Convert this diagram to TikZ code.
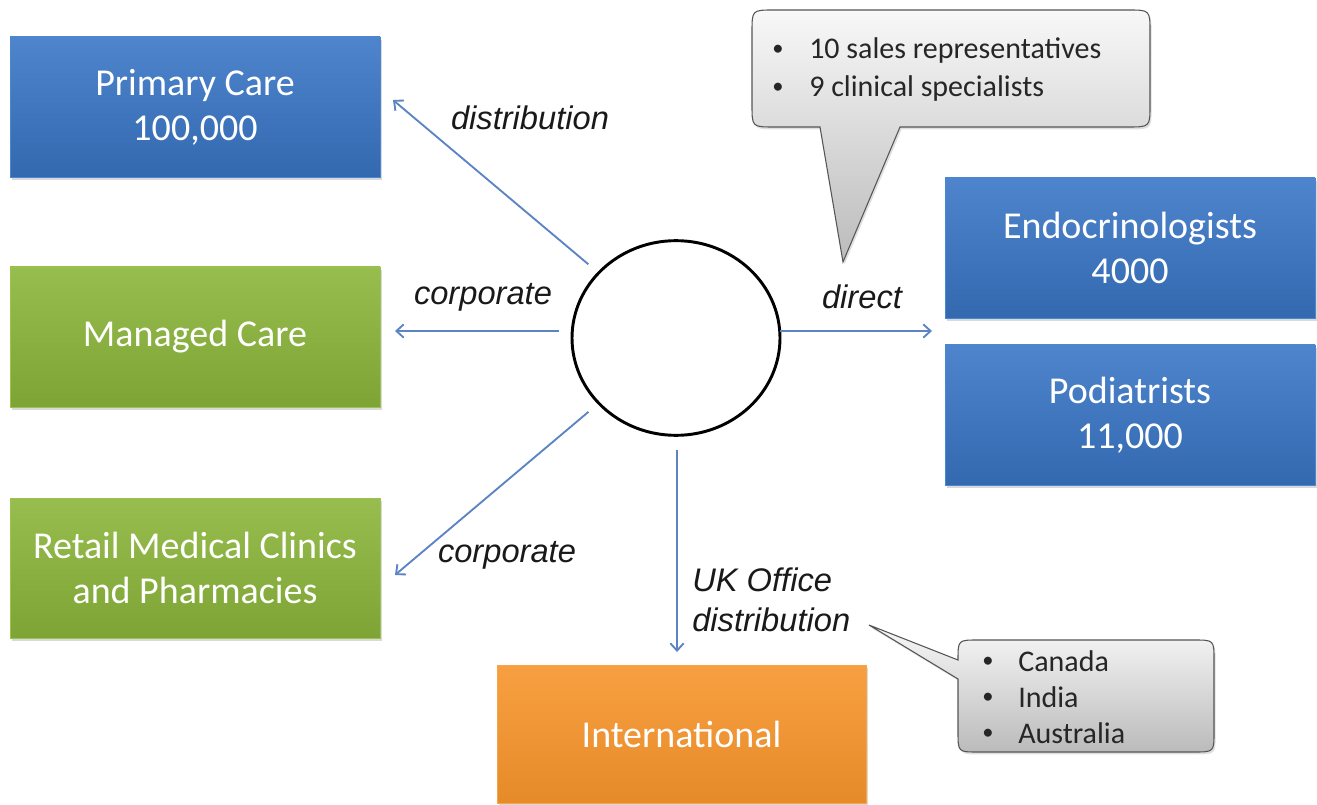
\documentclass[tikz,border=0pt]{standalone}
\usepackage{fontspec}
\setmainfont{Carlito}
\newfontfamily\labelfont{Liberation Sans}
\usetikzlibrary{arrows.meta,shadows,shapes.geometric}
\definecolor{bluemain}{HTML}{3A77C7}
\definecolor{blueedge}{HTML}{4A86D2}
\definecolor{greenmain}{HTML}{8BB63A}
\definecolor{greenedge}{HTML}{9CC44C}
\definecolor{orangemain}{HTML}{F7952C}
\definecolor{orangeedge}{HTML}{F8A448}
\definecolor{arrowblue}{HTML}{5C83C2}
\definecolor{calltop}{HTML}{F8F8F8}
\definecolor{callmid}{HTML}{CACACA}
\definecolor{callbot}{HTML}{BBBBBB}
\definecolor{calledge}{HTML}{555555}
\newcommand{\bul}[1]{\makebox[#1][l]{\raisebox{0.12em}{\scalebox{0.75}{•}}}}
\begin{document}
\begin{tikzpicture}[x=0.75pt,y=-0.75pt,
  box/.style={rectangle, minimum width=277.5pt, minimum height=105pt,
    text=white, font=\fontsize{28.5}{33.75}\selectfont, align=center, inner sep=0pt,
    line width=0.6pt,
    drop shadow={opacity=0.3, shadow xshift=1.5pt, shadow yshift=-2.2pt}},
  bluebox/.style={box, top color=bluemain!90!white, middle color=bluemain, bottom color=bluemain!88!black, draw=blueedge},
  greenbox/.style={box, top color=greenmain!90!white, middle color=greenmain, bottom color=greenmain!90!black, draw=greenedge},
  orangebox/.style={box, top color=orangemain!90!white, middle color=orangemain, bottom color=orangemain!93!black, draw=orangeedge},
  arr/.style={draw=arrowblue, line width=1.4pt, -{Straight Barb[length=5.5pt,width=10pt]}},
  lbl/.style={font=\labelfont\itshape\fontsize{24.5}{30}\selectfont, text=black!90, inner sep=0pt},
  ctext/.style={font=\fontsize{22.5}{27}\selectfont, text=black!85, inner sep=0pt, anchor=base west},
  callout/.style={draw=calledge, line width=0.8pt, top color=calltop, middle color=callmid, bottom color=callbot,
    drop shadow={opacity=0.25, shadow xshift=1.2pt, shadow yshift=-1.8pt}}
]
\useasboundingbox (0,0) rectangle (1317,805);

% boxes
\node[bluebox] (pc) at (195,107) {Primary Care\\100,000};
\node[greenbox] (mc) at (195,337) {Managed Care};
\node[greenbox] (rm) at (195,568) {Retail Medical Clinics\\and Pharmacies};
\node[bluebox] (en) at (1130,248) {Endocrinologists\\4000};
\node[bluebox] (po) at (1130,415) {Podiatrists\\11,000};
\node[orangebox, minimum width=276.75pt, minimum height=103.5pt] (in) at (681.5,734) {International};

% central circle
\node[ellipse, draw=black, line width=2.2pt, fill=white, minimum width=156pt, minimum height=146pt, inner sep=0pt] (c) at (676,338) {};

% arrow end points
\coordinate (e1) at (393,100);
\coordinate (e2) at (395,331);
\coordinate (e3) at (395,575);
\coordinate (e4) at (932,331);
\coordinate (e5) at (677,652);

\draw[arr, shorten <=9pt] (c) -- (e1);
\draw[arr, shorten <=9pt] (c.west |- e2) -- (e2);
\draw[arr, shorten <=9pt] (c) -- (e3);
\draw[arr, shorten <=-1pt] (c.east |- e4) -- (e4);
\draw[arr, shorten <=10pt] (c.south -| e5) -- (e5);

% labels
\node[lbl] (l1) at (530,118) {distribution};
\node[lbl] (l2) at (483,297) {corporate};
\node[lbl] (l3) at (507,555) {corporate};
\node[lbl] (l4) at (862,297) {direct};
\node[lbl, anchor=base west] (l5) at (692,591) {UK Office};
\node[lbl, anchor=base west] (l6) at (692,631) {distribution};

% callout 1
\path[callout] (900,127) -- (1128,127) .. controls (1150,127) .. (1150,105) -- (1150,32)
  .. controls (1150,10) .. (1128,10) -- (774,10) .. controls (752,10) .. (752,32) -- (752,105)
  .. controls (752,127) .. (774,127) -- (820,127) -- (843,262) -- cycle;
\node[ctext] (c1a) at (772,59) {\bul{27.75pt}10 sales representatives};
\node[ctext] (c1b) at (772,97) {\bul{27.75pt}9 clinical specialists};

% callout 2
\path[callout] (958,679) -- (958,732) .. controls (958,752) .. (978,752) -- (1194,752)
  .. controls (1214,752) .. (1214,732) -- (1214,660) .. controls (1214,640) .. (1194,640)
  -- (978,640) .. controls (958,640) .. (958,660) -- (869,625) -- cycle;
\node[ctext] (c2a) at (982,671) {\bul{27pt}Canada};
\node[ctext] (c2b) at (982,707) {\bul{27pt}India};
\node[ctext] (c2c) at (982,743) {\bul{27pt}Australia};
\end{tikzpicture}
\end{document}
